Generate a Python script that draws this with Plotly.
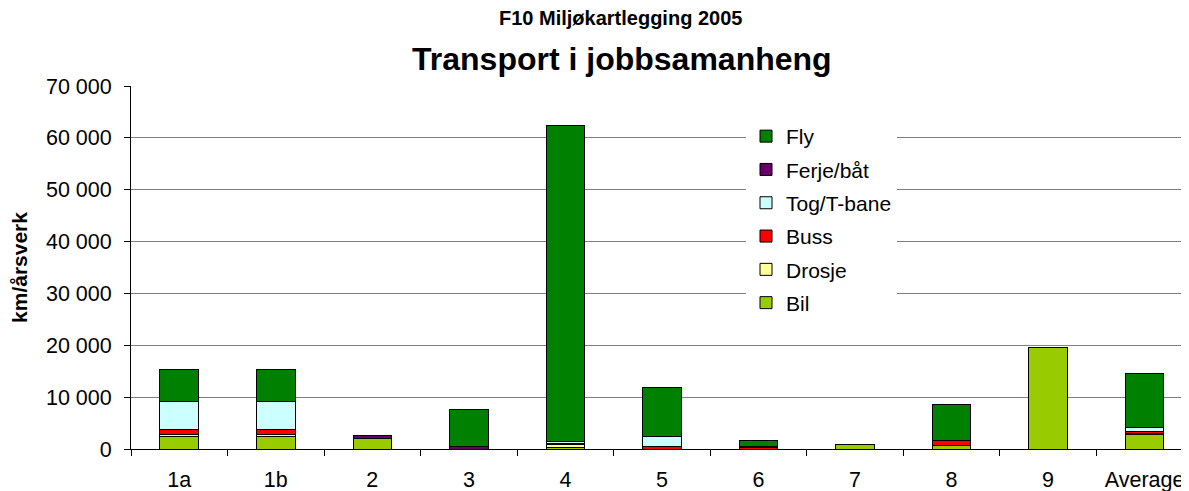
import plotly.graph_objects as go

categories = ["1a", "1b", "2", "3", "4", "5", "6", "7", "8", "9", "Average"]
bil    = [2500, 2500, 1950,    0,   200,    0,    0, 800,  600, 19500,  2850]
drosje = [ 300,  300,    0,    0,   700,    0,    0,   0,  100,     0,   150]
buss   = [ 900,  900,    0,    0,   100,  500,  300,   0,  900,     0,   400]
tog    = [5400, 5400,    0,    0,   400, 2000,    0,   0,    0,     0,   700]
ferje  = [   0,    0,  650,  450,     0,    0,  200,   0,    0,     0,    50]
fly    = [6200, 6200,    0, 7100, 60900, 9300, 1050,   0, 7050,     0, 10350]

series = [
    ("Bil", bil, "#99CC00"),
    ("Drosje", drosje, "#FFFF99"),
    ("Buss", buss, "#FF0000"),
    ("Tog/T-bane", tog, "#CCFFFF"),
    ("Ferje/båt", ferje, "#660066"),
    ("Fly", fly, "#008000"),
]

fig = go.Figure()
n = len(series)
for i, (name, vals, col) in enumerate(series):
    fig.add_trace(go.Bar(
        x=categories, y=vals, name=name, legendgroup=name,
        legendrank=1000 + (n - i),
        marker=dict(color=col, line=dict(color="black", width=1)),
        width=0.4,
    ))

font = "Liberation Sans, Arial, sans-serif"
# page body has an 8px margin: figure sized to fill the visible window
FW, FH = 1181, 483
L, T, W, H = 123, 78, 1058, 363
fig.update_layout(
    barmode="stack",
    width=FW, height=FH,
    margin=dict(l=L, r=FW - L - W, t=T, b=FH - T - H, autoexpand=False),
    paper_bgcolor="white", plot_bgcolor="white",
    separators=", ",
    font=dict(family=font, size=21, color="black"),
    showlegend=True,
    legend=dict(
        traceorder="grouped", x=(738 - L) / W, y=1 - (108 - T) / H,
        xanchor="left", yanchor="top",
        bgcolor="white", borderwidth=0, font=dict(size=21, family=font),
        tracegroupgap=3,
    ),
)
fig.add_annotation(text="<b>F10 Miljøkartlegging 2005</b>", xref="paper", yref="paper",
                   x=(612 - L) / W, y=1 + (T - 10) / H, showarrow=False,
                   xanchor="center", yanchor="middle", font=dict(size=20, family=font))
fig.add_annotation(text="<b>Transport i jobbsamanheng</b>", xref="paper", yref="paper",
                   x=(614 - L) / W, y=1 + (T - 51) / H, showarrow=False,
                   xanchor="center", yanchor="middle", font=dict(size=32, family=font))

fig.update_xaxes(
    range=[-0.5, 10.46], tickson="boundaries", ticks="outside", ticklen=6,
    tickcolor="black", showline=True, linecolor="black", linewidth=1,
    showgrid=False, tickfont=dict(size=21.5, family=font), automargin=False,
    ticklabelstandoff=11,
)
fig.update_yaxes(
    range=[0, 70000], dtick=10000, tickformat=",.0f", ticks="outside", ticklen=6,
    tickcolor="black", showline=True, linecolor="black", linewidth=1,
    showgrid=True, gridcolor="#808080", gridwidth=1, zeroline=False,
    tickfont=dict(size=21.5, family=font), automargin=False, ticklabelstandoff=8,
    title=dict(text="<b>km/årsverk</b>", font=dict(size=21, family=font), standoff=12),
)

fig.write_html("out.html")
